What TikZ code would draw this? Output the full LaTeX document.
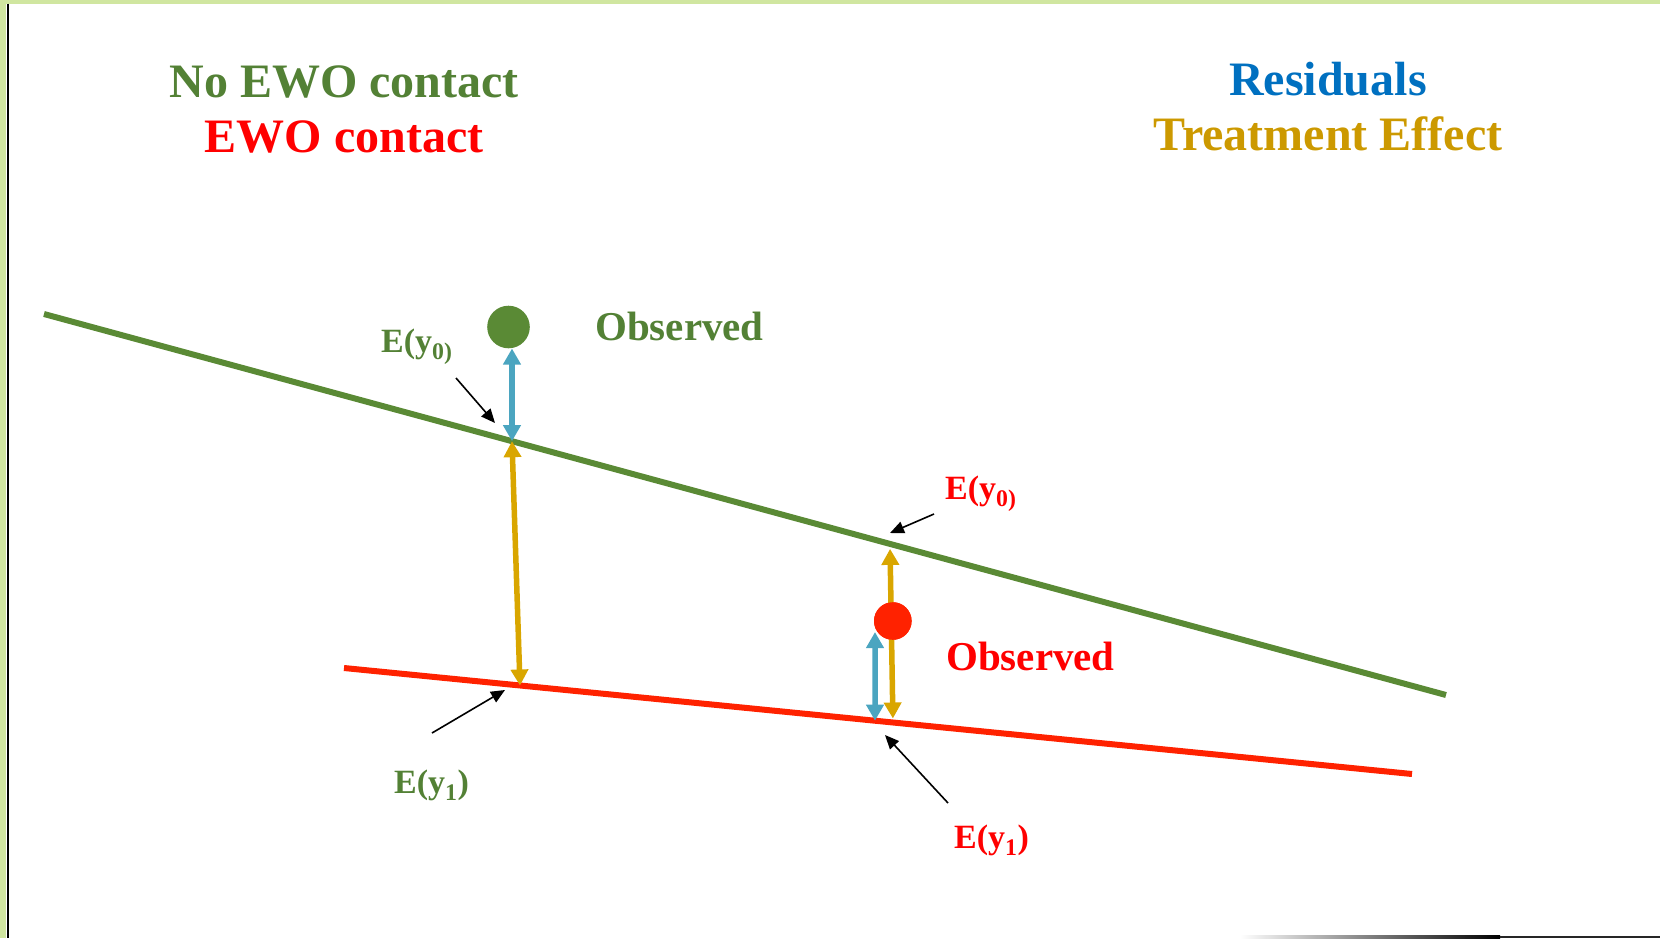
\documentclass[tikz,border=0pt]{standalone}
\usepackage{fontspec}
\setmainfont{Liberation Serif}
\usetikzlibrary{arrows.meta,calc}
\definecolor{gtext}{HTML}{538135}
\definecolor{gline}{HTML}{5A8A35}
\definecolor{rtext}{HTML}{FF0000}
\definecolor{rline}{HTML}{FF2200}
\definecolor{btext}{HTML}{0070C0}
\definecolor{barrow}{HTML}{4BA5C0}
\definecolor{ytext}{HTML}{CC9900}
\definecolor{yarrow}{HTML}{D9A600}
\definecolor{framegreen}{HTML}{D0E6A0}
\begin{document}
\begin{tikzpicture}[x=1pt,y=-1pt,
  txt/.style={inner sep=0pt,font=\bfseries},
  title/.style={txt,anchor=base,font=\bfseries\fontsize{48}{56}\selectfont},
  obs/.style={txt,anchor=base west,font=\bfseries\fontsize{41}{48}\selectfont},
  elabel/.style={txt,anchor=base west,font=\bfseries\fontsize{34}{40}\selectfont},
  trend/.style={line width=6pt},
  dblarrow/.style={line width=5.5pt,{Triangle[width=17pt,length=16pt]}-{Triangle[width=17pt,length=16pt]}},
  pointer/.style={line width=1.6pt,-{Triangle[width=12pt,length=14pt]}},
  dot/.style={circle,inner sep=0pt,minimum size=#1}
]
\useasboundingbox (0,0) rectangle (1660,938);
% frame
\fill[framegreen] (0,0) rectangle (6,938);
\fill[framegreen] (0,0) rectangle (1660,3.5);
\draw[black,line width=2pt] (8,3.5) -- (8,938);
\shade[left color=white,right color=black] (1240,935.5) rectangle (1500,938);
\fill[black!85] (1500,935.5) rectangle (1660,938);

% titles
\node[title,text=gtext] (t1) at (344,97) {No EWO contact};
\node[title,text=rtext] (t2) at (344,152) {EWO contact};
\node[title,text=btext] (t3) at (1328,95) {Residuals};
\node[title,text=ytext] (t4) at (1328,150) {Treatment Effect};

% trend lines
\coordinate (g1) at (44,314);
\coordinate (g2) at (1446,695);
\coordinate (r1) at (344,668);
\coordinate (r2) at (1412,774);
\draw[trend,gline] (g1) -- (g2);
\draw[trend,rline] (r1) -- (r2);

\coordinate (gA) at ($(g1)!0.3338!(g2)$);
\coordinate (gB) at ($(g1)!0.6034!(g2)$);
\coordinate (rA) at ($(r1)!0.1648!(r2)$);
\coordinate (rB) at ($(r1)!0.514!(r2)$);
\coordinate (rC) at ($(r1)!0.4972!(r2)$);

% observed points
\node[dot=42.6pt,fill=gline] (gdot) at (508.5,327) {};
\node[dot=37.6pt,fill=rline] (rdot) at (892.8,621) {};
\coordinate (b2top) at (875,632);

% arrows
\draw[dblarrow,barrow] (gdot.south -| gA) -- (gA);
\draw[dblarrow,yarrow] (gA) -- (rA);
\draw[dblarrow,yarrow,shorten <=5pt,shorten >=4pt] (gB) -- (rB);
\draw[dblarrow,barrow] (b2top) -- (rC);
\node[dot=37.6pt,fill=rline] at (rdot) {};

% labels
\node[obs,text=gtext] (obs1) at (595,340) {Observed};
\node[obs,text=rtext] (obs2) at (946,670) {Observed};
\node[elabel,text=gtext] (e01) at (381,352) {E(y\textsubscript{0)}};
\node[elabel,text=rtext] (e02) at (945,499) {E(y\textsubscript{0)}};
\node[elabel,text=gtext] (e11) at (394,793) {E(y\textsubscript{1})};
\node[elabel,text=rtext] (e12) at (954,848) {E(y\textsubscript{1})};

% pointers
\coordinate (p1s) at (456,378); \coordinate (p1e) at (495,423);
\coordinate (p2s) at (934,514); \coordinate (p2e) at (890,533);
\coordinate (p3s) at (432,733); \coordinate (p3e) at (505,690);
\coordinate (p4s) at (948,803); \coordinate (p4e) at (885,735);
\draw[pointer] (p1s) -- (p1e);
\draw[pointer] (p2s) -- (p2e);
\draw[pointer] (p3s) -- (p3e);
\draw[pointer] (p4s) -- (p4e);
\end{tikzpicture}
\end{document}
